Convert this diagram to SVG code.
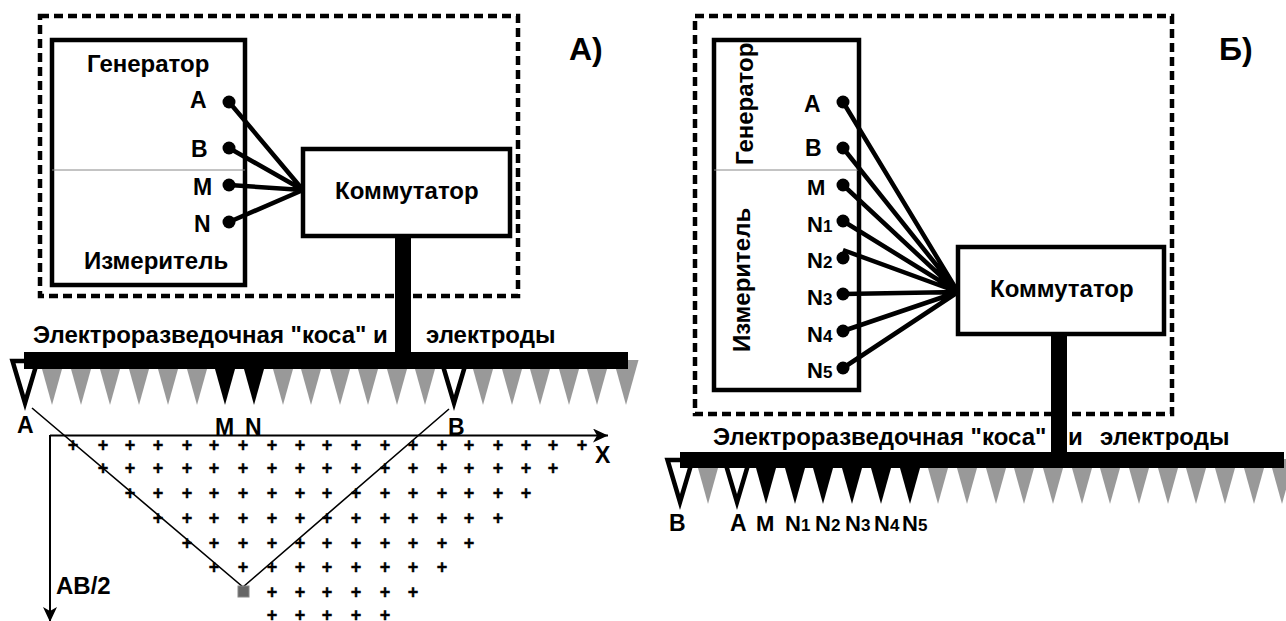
<svg xmlns="http://www.w3.org/2000/svg" width="1286" height="621" viewBox="0 0 1286 621">
<style>
text{font-family:"Liberation Sans",Arial,sans-serif;font-weight:bold;fill:#000}
.t{font-size:24px}
.h{font-size:32px}
.l{font-size:23px}
.r{font-size:22px}
.s{font-size:17px}
.d{fill:none;stroke:#000;stroke-width:4.500;stroke-dasharray:9 5}
.b{fill:#fff;stroke:#000;stroke-width:4.500}
.sep{stroke:#888;stroke-width:1}
.w{stroke:#000;stroke-width:4.500;fill:none}
.thin{stroke:#000;stroke-width:1.600;fill:none}
.ax{stroke:#000;stroke-width:2;fill:none}
.g{fill:#999}
.k{fill:#000}
.o{fill:#fff;stroke:#000;stroke-width:4.500}
.p{font-size:18px;text-anchor:middle;stroke:#000;stroke-width:.4}
</style>
<defs>
<polygon id="tri" points="-12.5,0 12.5,0 0,45"/>
<polygon id="hol" points="-12.5,0 12.5,0 0,42"/>
<marker id="ah" markerUnits="userSpaceOnUse" markerWidth="16" markerHeight="14" refX="15" refY="7" orient="auto"><path d="M0,0 L15,7 L0,14 L4,7 Z" fill="#000"/></marker>
</defs>
<rect width="1286" height="621" fill="#fff"/>

<g id="panel-a">
<rect class="d" x="40" y="16" width="478" height="280"/>
<g id="plot-a">
<g>
<text class="p" y="451" x="73 103 130 158 187 214 243 272 300 327 356 385 413 442 469 498 526 553 582">+++++++++++++++++++</text>
<text class="p" y="474" x="103 130 158 187 214 243 272 300 327 356 385 413 442 469 498 526 553">+++++++++++++++++</text>
<text class="p" y="499" x="130 158 187 214 243 272 300 327 356 385 413 442 469 498 526">+++++++++++++++</text>
<text class="p" y="524" x="158 187 214 243 272 300 327 356 385 413 442 469 498">+++++++++++++</text>
<text class="p" y="549" x="187 214 243 272 300 327 356 385 413 442 469">+++++++++++</text>
<text class="p" y="573" x="214 243 272 300 327 356 385 413 442">+++++++++</text>
<text class="p" y="598" x="272 300 327 356 385 413">++++++</text>
<text class="p" y="621" x="272 300 327 356 385">+++++</text>
</g>
<path class="ax" d="M50,435.500 H608" marker-end="url(#ah)"/>
<path class="ax" d="M50,435 V622" marker-end="url(#ah)"/>
<path class="thin" d="M32,408 L243,587 L449,409"/>
<rect x="238" y="586" width="11" height="11" fill="#666" stroke="#888" stroke-width="1"/>
</g>
<g id="electrodes-a">
<use class="g" href="#tri" x="52" y="360"/><use class="g" href="#tri" x="81" y="360"/><use class="g" href="#tri" x="110" y="360"/><use class="g" href="#tri" x="139" y="360"/><use class="g" href="#tri" x="168" y="360"/><use class="g" href="#tri" x="197" y="360"/>
<use class="k" href="#tri" x="225" y="360"/><use class="k" href="#tri" x="254" y="360"/>
<use class="g" href="#tri" x="283" y="360"/><use class="g" href="#tri" x="311" y="360"/><use class="g" href="#tri" x="340" y="360"/><use class="g" href="#tri" x="368" y="360"/><use class="g" href="#tri" x="397" y="360"/><use class="g" href="#tri" x="425" y="360"/>
<use class="g" href="#tri" x="483" y="360"/><use class="g" href="#tri" x="512" y="360"/><use class="g" href="#tri" x="540" y="360"/><use class="g" href="#tri" x="569" y="360"/><use class="g" href="#tri" x="597" y="360"/><use class="g" href="#tri" x="626" y="360"/>
<use class="o" href="#hol" x="25" y="361"/><use class="o" href="#hol" x="454" y="361"/>
</g>
<g id="instrument-a">
<rect class="b" x="52" y="40" width="193" height="245"/>
<line class="sep" x1="52" y1="170" x2="245" y2="170"/>
<text class="t" x="87" y="72">Генератор</text>
<text class="t" x="84" y="269">Измеритель</text>
<text class="l" x="190" y="108">A</text>
<text class="l" x="191" y="157">B</text>
<text class="l" x="193" y="195">M</text>
<text class="l" x="194" y="232">N</text>
</g>
<g id="commutator-a">
<rect class="b" x="303" y="149" width="207" height="87"/>
<text class="t" x="335" y="199">Коммутатор</text>
</g>
<g id="connectors-a">
<path class="w" d="M229,102 L303,190 M229,148 L303,190 M229,185 L303,190 M229,222 L303,190"/>
<g class="k"><circle cx="229" cy="102" r="6.500"/><circle cx="229" cy="148" r="6.500"/><circle cx="229" cy="185" r="6.500"/><circle cx="229" cy="222" r="6.500"/></g>
<rect class="k" x="395" y="236" width="16" height="116"/>
</g>
<g id="cable-a">
<rect class="k" x="24" y="352" width="604" height="17"/>
<text class="t" x="33" y="343">Электроразведочная "коса" и</text>
<text class="t" x="426" y="343">электроды</text>
</g>
<g id="labels-a">
<text class="h" x="569" y="60">А)</text>
<text class="l" x="17" y="433">A</text>
<text class="l" x="215" y="435">M</text>
<text class="l" x="245" y="435">N</text>
<text class="l" x="448" y="435">B</text>
<text class="t" x="56" y="594">AB/2</text>
<text class="l" x="595" y="463">X</text>
</g>
</g>

<g id="panel-b">
<rect class="d" x="695" y="16" width="477" height="398"/>
<g id="electrodes-b">
<use class="g" href="#tri" x="708" y="459"/>
<use class="k" href="#tri" x="766" y="459"/><use class="k" href="#tri" x="795" y="459"/><use class="k" href="#tri" x="823" y="459"/><use class="k" href="#tri" x="852" y="459"/><use class="k" href="#tri" x="881" y="459"/><use class="k" href="#tri" x="910" y="459"/>
<use class="g" href="#tri" x="938" y="459"/><use class="g" href="#tri" x="967" y="459"/><use class="g" href="#tri" x="996" y="459"/><use class="g" href="#tri" x="1024" y="459"/><use class="g" href="#tri" x="1053" y="459"/><use class="g" href="#tri" x="1082" y="459"/><use class="g" href="#tri" x="1110" y="459"/><use class="g" href="#tri" x="1139" y="459"/><use class="g" href="#tri" x="1168" y="459"/><use class="g" href="#tri" x="1196" y="459"/><use class="g" href="#tri" x="1225" y="459"/><use class="g" href="#tri" x="1254" y="459"/><use class="g" href="#tri" x="1282" y="459"/>
<use class="o" href="#hol" x="680" y="460"/><use class="o" href="#hol" x="737" y="460"/>
</g>
<g id="instrument-b">
<rect class="b" x="714" y="40" width="145" height="350"/>
<line class="sep" x1="714" y1="170" x2="859" y2="170"/>
<text class="t" transform="translate(753,165) rotate(-90)">Генератор</text>
<text class="t" transform="translate(750,352) rotate(-90)">Измеритель</text>
<text class="l" x="804" y="112">A</text>
<text class="l" x="805" y="156">B</text>
<text class="r" x="807" y="195">M</text>
<text class="r" x="807" y="232">N<tspan class="s">1</tspan></text>
<text class="r" x="807" y="268">N<tspan class="s">2</tspan></text>
<text class="r" x="807" y="305">N<tspan class="s">3</tspan></text>
<text class="r" x="807" y="342">N<tspan class="s">4</tspan></text>
<text class="r" x="807" y="378">N<tspan class="s">5</tspan></text>
</g>
<g id="commutator-b">
<rect class="b" x="958" y="247" width="206" height="87"/>
<text class="t" x="990" y="297">Коммутатор</text>
</g>
<g id="connectors-b">
<path class="w" d="M843,102 L958,292 M843,148 L958,292 M843,185 L958,292 M843,221 L958,292 M843,250 L958,292 M843,294 L958,292 M843,331 L958,292 M843,368 L958,292"/>
<g class="k"><circle cx="843" cy="102" r="6.500"/><circle cx="843" cy="148" r="6.500"/><circle cx="843" cy="185" r="6.500"/><circle cx="843" cy="221" r="6.500"/><circle cx="843" cy="258" r="6.500"/><circle cx="843" cy="294" r="6.500"/><circle cx="843" cy="331" r="6.500"/><circle cx="843" cy="368" r="6.500"/></g>
<rect class="k" x="1051" y="334" width="16" height="118"/>
</g>
<g id="cable-b">
<rect class="k" x="680" y="452" width="604" height="16"/>
<text class="t" x="713" y="445">Электроразведочная "коса"</text>
<text class="t" x="1068" y="445">и</text>
<text class="t" x="1100" y="445">электроды</text>
</g>
<g id="labels-b">
<text class="h" x="1219" y="60">Б)</text>
<text class="l" x="669" y="531">B</text>
<text class="l" x="730" y="531">A</text>
<text class="r" x="756" y="531">M</text>
<text class="r" x="785" y="531">N<tspan class="s">1</tspan></text>
<text class="r" x="815" y="531">N<tspan class="s">2</tspan></text>
<text class="r" x="845" y="531">N<tspan class="s">3</tspan></text>
<text class="r" x="874" y="531">N<tspan class="s">4</tspan></text>
<text class="r" x="902" y="531">N<tspan class="s">5</tspan></text>
</g>
</g>
</svg>
